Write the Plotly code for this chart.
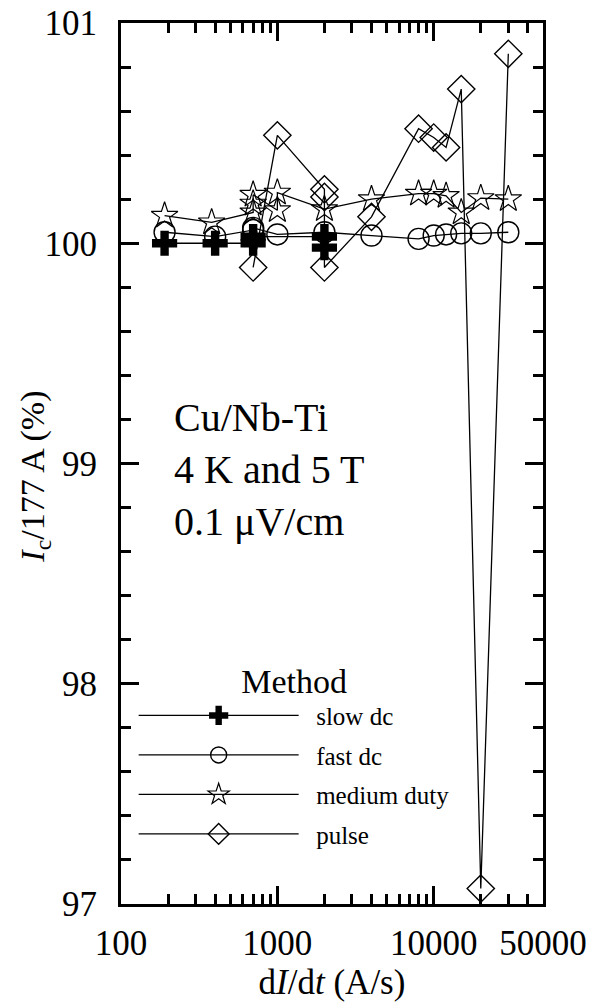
import plotly.graph_objects as go

# ---------------- data ----------------
slow_x = [190, 400, 700, 700, 2000, 2000]
slow_y = [100.0, 100.0, 100.0, 100.03, 100.03, 99.98]

fast_x = [190, 400, 700, 700, 1000, 2000, 4000, 8000, 10000, 12000, 15000, 20000, 30000]
fast_y = [100.05, 100.03, 100.06, 100.07, 100.04, 100.05, 100.035, 100.02, 100.035, 100.04, 100.045, 100.045, 100.05]

med_x = [190, 380, 700, 700, 700, 1000, 1000, 2000, 4000, 8000, 10000, 12000, 15000, 20000, 30000]
med_y = [100.125, 100.095, 100.14, 100.18, 100.22, 100.15, 100.23, 100.155, 100.2, 100.225, 100.225, 100.215, 100.14, 100.205, 100.2]

pulse_x = [700, 1000, 2000, 2000, 2000, 4000, 8000, 10000, 12000, 15000, 20000, 30000]
pulse_y = [99.89, 100.49, 100.245, 100.21, 99.89, 100.12, 100.52, 100.48, 100.435, 100.7, 97.07, 100.86]

series_names = ["slow dc", "fast dc", "medium duty", "pulse"]

x_tickvals = [100, 1000, 10000, 50000]
x_ticktext = ["100", "1000", "10000", "50000"]
x_minor = [200, 300, 400, 500, 600, 700, 800, 900,
           2000, 3000, 4000, 5000, 6000, 7000, 8000, 9000,
           20000, 30000, 40000]
y_tickvals = [97, 98, 99, 100, 101]

FONT = "Liberation Serif"
NBSP = "\u00a0"

fig = go.Figure()

specs = [
    (series_names[0], slow_x, slow_y, "cross", 21, 0),
    (series_names[1], fast_x, fast_y, "circle-open", 21, 1.4),
    (series_names[2], med_x, med_y, "star-open", 20, 1.2),
    (series_names[3], pulse_x, pulse_y, "diamond-open", 21, 1.4),
]
for i, (nm, xs, ys, sym, sz, lw) in enumerate(specs):
    fig.add_trace(go.Scatter(
        x=xs, y=ys, mode="lines+markers", name=NBSP * 2 + nm, legendgroup=f"g{i}",
        line=dict(color="black", width=1.3),
        marker=dict(symbol=sym, size=sz, color="black",
                    line=dict(color="black", width=lw)),
        cliponaxis=False,
    ))

fig.add_annotation(
    xref="paper", yref="y", x=0.12, y=98.971, xanchor="left", yanchor="middle",
    text="Cu/Nb-Ti<br>4 K and 5 T<br>0.1 μV/cm", align="left", showarrow=False,
    font=dict(family=FONT, size=40, color="black"),
)

# y-axis title
fig.add_annotation(
    xref="paper", yref="paper", x=-0.204, y=0.485, xanchor="center", yanchor="middle",
    text="<i>I</i><sub>c</sub>/177 A (%)", textangle=-90, showarrow=False,
    font=dict(family=FONT, size=34, color="black"),
)

axis_common = dict(
    showline=True, linewidth=3, linecolor="black", mirror="allticks",
    ticks="inside", ticklen=18, tickwidth=3, tickcolor="black",
    showgrid=False, zeroline=False,
    tickfont=dict(family=FONT, size=35, color="black"),
)

fig.update_xaxes(
    type="log", range=[2, 4.69897],
    tickmode="array", tickvals=x_tickvals, ticktext=x_ticktext,
    minor=dict(tickmode="array", tickvals=x_minor, ticks="inside", ticklen=10,
               tickwidth=2.5, tickcolor="black", showgrid=False),
    title=dict(text="d<i>I</i>/d<i>t</i> (A/s)", font=dict(family=FONT, size=35, color="black"),
               standoff=6),
    ticklabelstandoff=6,
    **axis_common,
)
fig.update_yaxes(
    range=[97, 101], tickmode="array", tickvals=y_tickvals,
    minor=dict(dtick=0.2, ticks="inside", ticklen=10, tickwidth=2.5,
               tickcolor="black", showgrid=False),
    ticklabelstandoff=14,
    **axis_common,
)

fig.update_layout(
    width=599, height=1004,
    margin=dict(l=121, r=56, t=23, b=100, autoexpand=False),
    paper_bgcolor="white", plot_bgcolor="white",
    font=dict(family=FONT, color="black"),
    showlegend=True,
    legend=dict(
        x=0.03, y=0.29, xanchor="left", yanchor="top",
        xref="paper", yref="paper",
        bgcolor="rgba(0,0,0,0)",
        itemwidth=160, tracegroupgap=4,
        font=dict(family=FONT, size=25, color="black"),
        title=dict(text="Method", side="top center", font=dict(family=FONT, size=34, color="black")),
    ),
)

fig.write_html("out.html")
